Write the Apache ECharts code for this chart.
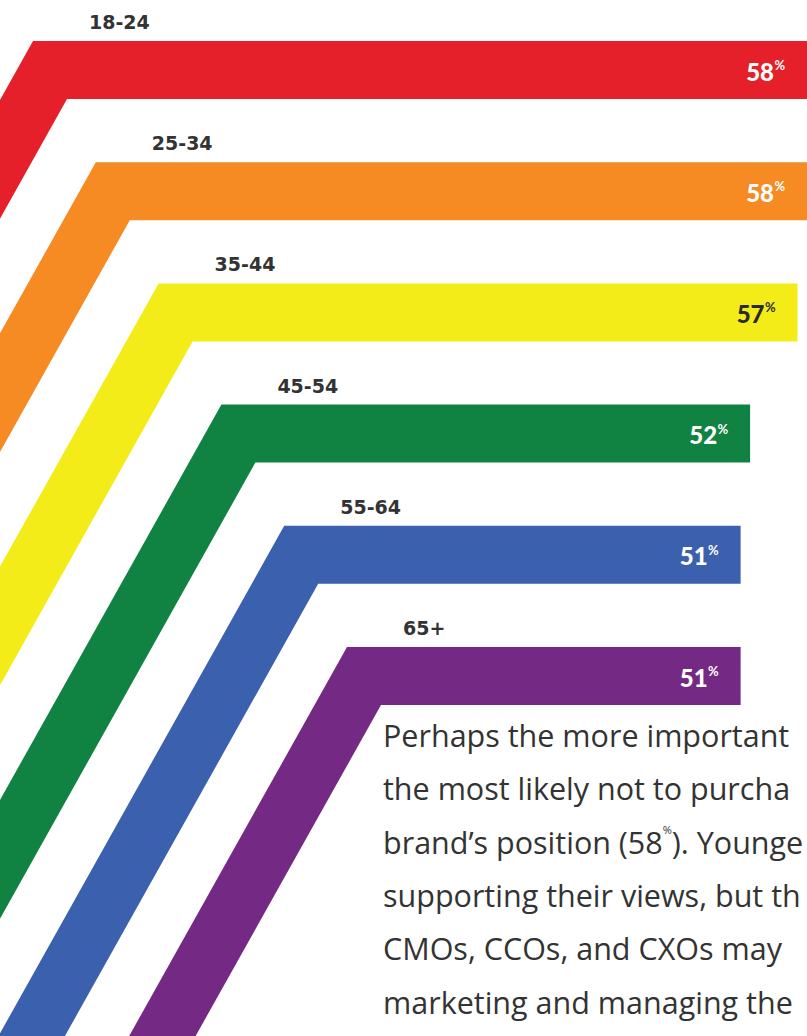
<!DOCTYPE html>
<html>
<head>
<meta charset="utf-8">
<script src="https://cdn.jsdelivr.net/npm/echarts@6/dist/echarts.min.js"></script>
<style>
  html, body { margin: 0; padding: 0; background: #ffffff; overflow: hidden; }
  #chart { width: 807px; height: 1036px; }
</style>
</head>
<body>
<div id="chart"></div>
<script>
// Age groups, top to bottom
const ageGroups = ['18-24', '25-34', '35-44', '45-54', '55-64', '65+'];
// Share of each group (%)
const shares = [58, 58, 57, 52, 51, 51];
// Band fill per group
const bandColors = ['#E5202A', '#F58B22', '#F3EC19', '#108342', '#3B60AD', '#742A84'];
// Value text colour per band
const valueTextColors = ['#ffffff', '#ffffff', '#2b2b2b', '#ffffff', '#ffffff', '#ffffff'];
// Body copy beside the bands (runs off the right edge)
const paragraphLines = [
  'Perhaps the more important',
  'the most likely not to purcha',
  'brand\u2019s position (58{s|%}). Younge',
  'supporting their views, but th',
  'CMOs, CCOs, and CXOs may',
  'marketing and managing the'
];

// Band geometry
const BAND = 58;            // band thickness (px)
const SLOPE = 0.56;         // horizontal run per pixel of drop on the diagonal leg
const CORNER0 = 33;         // outer corner x of the first band
const CORNER_STEP = 62.8;   // corner shift per band
const FOOT = 1120;          // y where the diagonal legs end (below the page)

const chart = echarts.init(document.getElementById('chart'), null, { renderer: 'svg' });

function renderBand(params, api) {
  const i = params.dataIndex;
  const v = api.value(0);
  const p = api.coord([v, api.value(1)]);
  const xEnd = p[0];
  const cy = p[1];
  const top = cy - BAND / 2;
  const bot = cy + BAND / 2;
  const cx = CORNER0 + CORNER_STEP * i;
  const w = BAND * Math.sqrt(1 + SLOPE * SLOPE);
  const inner = cx - BAND * SLOPE + w;
  const pts = [
    [xEnd, top],
    [xEnd, bot],
    [inner, bot],
    [inner - SLOPE * (FOOT - bot), FOOT],
    [cx - SLOPE * (FOOT - top), FOOT],
    [cx, top]
  ];
  return {
    type: 'group',
    children: [
      { type: 'polygon', shape: { points: pts }, style: { fill: bandColors[i] } },
      {
        type: 'text', x: xEnd - 33, y: cy + 1,
        style: { text: String(v), align: 'right', verticalAlign: 'middle',
                 font: '900 24px Lato', fill: valueTextColors[i] }
      },
      {
        type: 'text', x: xEnd - 32.5, y: cy - 5,
        style: { text: '%', align: 'left', verticalAlign: 'middle',
                 font: '700 13px Lato', fill: valueTextColors[i] }
      },
      {
        type: 'text', x: cx + 56, y: top - 19,
        style: { text: ageGroups[i], align: 'left', verticalAlign: 'middle',
                 font: 'bold 19px "DejaVu Sans"', fill: '#333333' }
      }
    ]
  };
}

const PARA_X = 383;
const PARA_Y0 = 735;
const PARA_STEP = 53.3;

const option = {
  animation: false,
  backgroundColor: '#ffffff',
  grid: { left: 257, right: 0, top: 9.4, height: 727.2, outerBoundsMode: 'none' },
  xAxis: { type: 'value', min: 0, max: 58, show: false },
  yAxis: { type: 'category', data: ageGroups, inverse: true, show: false },
  series: [{
    type: 'custom',
    renderItem: renderBand,
    clip: false,
    encode: { x: 0, y: 1 },
    data: shares.map((v, i) => [v, i])
  }],
  graphic: paragraphLines.map((line, k) => ({
    type: 'text',
    x: PARA_X,
    y: PARA_Y0 + PARA_STEP * k,
    style: {
      text: '{n|' + line.replace('{s|%}', '}{s|%}{n|') + '}',
      verticalAlign: 'middle',
      rich: {
        n: { font: '30.5px "Open Sans"', fill: '#333333', lineHeight: 36 },
        s: { font: '11px "Open Sans"', fill: '#333333', lineHeight: 24, verticalAlign: 'top' }
      }
    }
  }))
};

chart.setOption(option);
</script>
</body>
</html>
